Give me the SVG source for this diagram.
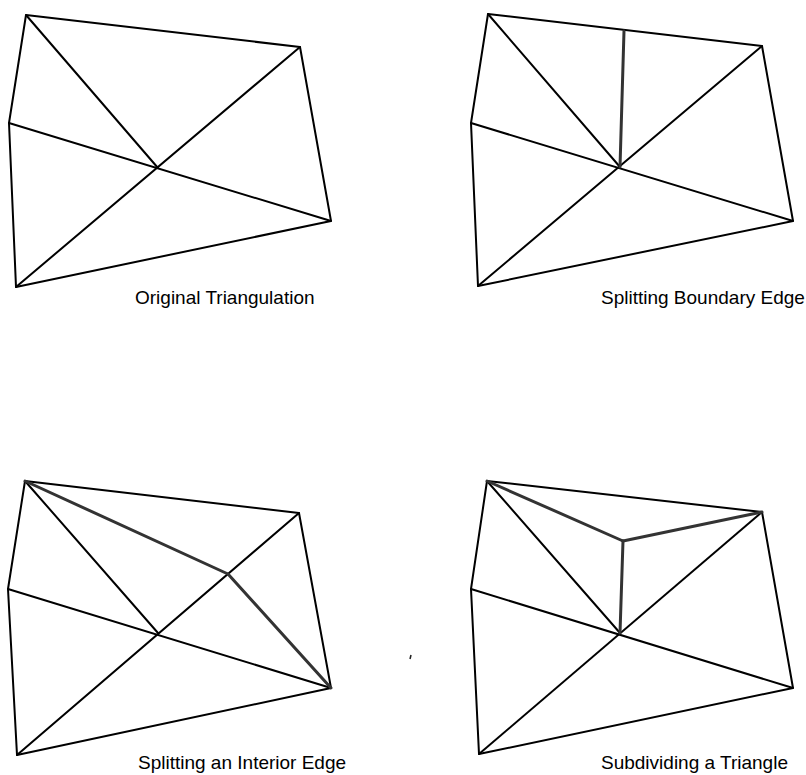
<svg xmlns="http://www.w3.org/2000/svg" width="806" height="775" viewBox="0 0 806 775">
<style>
.e{stroke:#000;stroke-width:2;fill:none;stroke-linecap:round;stroke-linejoin:round}
.n{stroke:#333;stroke-width:3;fill:none;stroke-linecap:round}
.t{font-family:"Liberation Sans",Arial,sans-serif;font-size:19px;fill:#000}
</style>
<rect width="806" height="775" fill="#fff"/>
<g id="panel-original">
<g id="connectors-original">
<polygon class="e" points="26,15 300,47 331,221 16,287 9,123"/>
<line class="e" x1="26" y1="15" x2="158" y2="168"/>
<line class="e" x1="9" y1="123" x2="331" y2="221"/>
<line class="e" x1="16" y1="287" x2="300" y2="47"/>
</g>
<text id="label-original" class="t" x="135" y="304">Original Triangulation</text>
</g>
<g id="panel-boundary">
<g id="connectors-boundary">
<polygon class="e" points="488,14 762,46 793,221 478,286 471,123"/>
<line class="e" x1="488" y1="14" x2="620" y2="167"/>
<line class="e" x1="471" y1="123" x2="793" y2="221"/>
<line class="e" x1="478" y1="286" x2="762" y2="46"/>
<line class="n" x1="624" y1="31" x2="620" y2="167"/>
</g>
<text id="label-boundary" class="t" x="601" y="304">Splitting Boundary Edge</text>
</g>
<g id="panel-interior">
<g id="connectors-interior">
<polygon class="e" points="25,481 299,513 331,688 17,755 8,589"/>
<line class="e" x1="25" y1="481" x2="158" y2="633"/>
<line class="e" x1="8" y1="589" x2="331" y2="688"/>
<line class="e" x1="17" y1="755" x2="299" y2="513"/>
<line class="n" x1="25" y1="481" x2="228" y2="574"/>
<line class="n" x1="228" y1="574" x2="331" y2="688"/>
</g>
<text id="label-interior" class="t" x="138" y="769">Splitting an Interior Edge</text>
</g>
<g id="panel-subdivide">
<g id="connectors-subdivide">
<polygon class="e" points="487,481 762,512 793,688 479,754 471,589"/>
<line class="e" x1="487" y1="481" x2="620" y2="633"/>
<line class="e" x1="471" y1="589" x2="793" y2="688"/>
<line class="e" x1="479" y1="754" x2="762" y2="512"/>
<line class="n" x1="487" y1="481" x2="623" y2="541"/>
<line class="n" x1="762" y1="512" x2="623" y2="541"/>
<line class="n" x1="623" y1="541" x2="620" y2="633"/>
</g>
<text id="label-subdivide" class="t" x="601" y="769">Subdividing a Triangle</text>
</g>
<line x1="411" y1="655" x2="410" y2="659" stroke="#222" stroke-width="1.5"/>
</svg>
